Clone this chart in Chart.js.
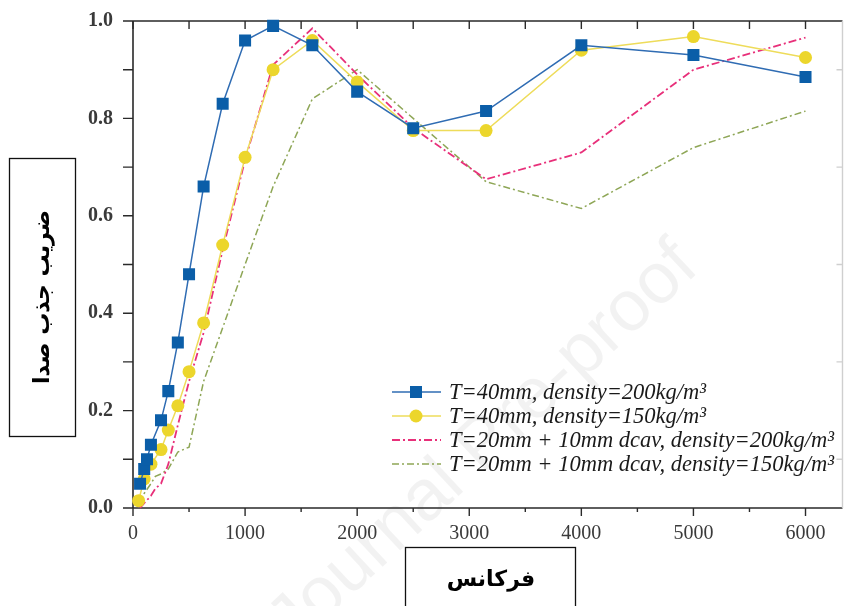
<!DOCTYPE html>
<html>
<head>
<meta charset="utf-8">
<script src="https://cdn.jsdelivr.net/npm/chart.js@4.4.0/dist/chart.umd.min.js"></script>
<style>
  body { margin: 0; background: #fff; }
  #wrap { width: 851px; height: 606px; position: relative; }
</style>
</head>
<body>
<div id="wrap"><canvas id="absorption-chart"></canvas></div>
<script>
// data
const freqBlue = [63, 100, 125, 160, 250, 315, 400, 500, 630, 800, 1000, 1250, 1600, 2000, 2500, 3150, 4000, 5000, 6000];
const alphaBlue = [0.05, 0.08, 0.10, 0.13, 0.18, 0.24, 0.34, 0.48, 0.66, 0.83, 0.96, 0.99, 0.95, 0.855, 0.78, 0.815, 0.95, 0.93, 0.885];

const freqYellow = [50, 100, 160, 250, 315, 400, 500, 630, 800, 1000, 1250, 1600, 2000, 2500, 3150, 4000, 5000, 6000];
const alphaYellow = [0.015, 0.06, 0.09, 0.12, 0.16, 0.21, 0.28, 0.38, 0.54, 0.72, 0.90, 0.96, 0.875, 0.775, 0.775, 0.94, 0.968, 0.925];

const freqPink = [63, 100, 160, 200, 250, 315, 400, 500, 630, 800, 1000, 1250, 1600, 2000, 2500, 3150, 4000, 5000, 6000];
const alphaPink = [0.0, 0.01, 0.025, 0.04, 0.05, 0.09, 0.17, 0.26, 0.36, 0.53, 0.715, 0.91, 0.985, 0.89, 0.78, 0.675, 0.73, 0.90, 0.966];

const freqGreen = [63, 100, 160, 200, 250, 315, 400, 500, 630, 800, 1000, 1250, 1600, 2000, 2500, 3150, 4000, 5000, 6000];
const alphaGreen = [0.01, 0.03, 0.05, 0.065, 0.07, 0.08, 0.115, 0.125, 0.26, 0.37, 0.50, 0.66, 0.84, 0.90, 0.80, 0.67, 0.615, 0.74, 0.815];

const xTickValues = [0, 1000, 2000, 3000, 4000, 5000, 6000];
const yTickValues = [0, 0.2, 0.4, 0.6, 0.8, 1.0];

const seriesLabels = [
  'T=40mm, density=200kg/m³',
  'T=40mm, density=150kg/m³',
  'T=20mm + 10mm dcav, density=200kg/m³',
  'T=20mm + 10mm dcav, density=150kg/m³'
];

const yTitle = 'ضریب جذب صدا';
const xTitle = 'فرکانس';

function pts(xs, ys) {
  return xs.map((x, i) => ({ x: x, y: ys[i] }));
}

const data = {
  datasets: [
    {
      label: seriesLabels[0],
      data: pts(freqBlue, alphaBlue),
      borderColor: '#2f6cb3',
      backgroundColor: '#0b5ea8',
      borderWidth: 1.5,
      pointStyle: 'rect',
      pointRadius: 8.5,
      pointBorderColor: '#0b5ea8',
      pointBorderWidth: 0,
    },
    {
      label: seriesLabels[1],
      data: pts(freqYellow, alphaYellow),
      borderColor: '#eedc5a',
      backgroundColor: '#ecd62c',
      borderWidth: 1.5,
      pointStyle: 'circle',
      pointRadius: 6.5,
      pointBorderColor: '#ecd62c',
      pointBorderWidth: 0,
    },
    {
      label: seriesLabels[2],
      data: pts(freqPink, alphaPink),
      borderColor: '#e8307a',
      backgroundColor: '#e8307a',
      borderWidth: 1.8,
      borderDash: [8, 3, 2, 3],
      pointRadius: 0,
    },
    {
      label: seriesLabels[3],
      data: pts(freqGreen, alphaGreen),
      borderColor: '#8ea656',
      backgroundColor: '#8ea656',
      borderWidth: 1.5,
      borderDash: [7, 3, 2, 3],
      pointRadius: 0,
    },
  ]
};

// frame, ticks on all four sides, watermark, titles and legend
const framePlugin = {
  id: 'frame',
  beforeDatasetsDraw(chart) {
    const ctx = chart.ctx;
    const a = chart.chartArea;
    const xs = chart.scales.x;
    const ys = chart.scales.y;

    // faint watermark
    ctx.save();
    ctx.translate(712, 282);
    ctx.rotate(-0.75);
    ctx.font = '72px "Liberation Sans"';
    ctx.fillStyle = 'rgba(0,0,0,0.05)';
    ctx.textAlign = 'right';
    ctx.textBaseline = 'bottom';
    ctx.fillText('Journal Pre-proof', 0, 0);
    ctx.restore();

    ctx.save();
    ctx.strokeStyle = '#2a2a2a';
    ctx.lineWidth = 1.6;
    ctx.beginPath();
    ctx.moveTo(a.left, a.bottom);
    ctx.lineTo(a.right, a.bottom);
    ctx.moveTo(a.left, a.top);
    ctx.lineTo(a.right, a.top);
    ctx.moveTo(a.left, a.top);
    ctx.lineTo(a.left, a.bottom);
    ctx.stroke();

    ctx.lineWidth = 1.4;
    ctx.beginPath();
    for (let v = 0; v <= xs.max; v += 500) {
      const px = xs.getPixelForValue(v);
      const major = v % 1000 === 0;
      ctx.moveTo(px, a.bottom);
      ctx.lineTo(px, a.bottom + (major ? 8 : 4));
      ctx.moveTo(px, a.top);
      ctx.lineTo(px, a.top + 8);
    }
    for (let i = 0; i <= 10; i++) {
      const py = ys.getPixelForValue(i / 10);
      ctx.moveTo(a.left, py);
      ctx.lineTo(a.left - 10, py);
    }
    ctx.stroke();

    // right side, barely visible in the reference
    ctx.strokeStyle = '#cfcfcf';
    ctx.beginPath();
    ctx.moveTo(a.right, a.top);
    ctx.lineTo(a.right, a.bottom);
    for (let i = 1; i < 10; i += 2) {
      const py = ys.getPixelForValue(i / 10);
      ctx.moveTo(a.right, py);
      ctx.lineTo(a.right - 6, py);
    }
    ctx.stroke();
    ctx.restore();
  },
  afterDraw(chart) {
    const ctx = chart.ctx;
    ctx.save();

    // axis title boxes
    ctx.strokeStyle = '#111';
    ctx.lineWidth = 1.3;
    ctx.strokeRect(9.5, 158.5, 66, 278);
    ctx.strokeRect(405.5, 547.5, 170, 70);

    ctx.fillStyle = '#000';
    ctx.font = 'bold 22px "DejaVu Sans"';
    ctx.textAlign = 'center';
    ctx.textBaseline = 'middle';
    ctx.fillText(xTitle, 491, 580);

    ctx.translate(43, 297);
    ctx.rotate(-Math.PI / 2);
    ctx.fillText(yTitle, 0, 0);
    ctx.restore();

    // legend
    const rows = [392, 416, 440, 464];
    ctx.save();
    chart.data.datasets.forEach((ds, i) => {
      const y = rows[i];
      ctx.strokeStyle = ds.borderColor;
      ctx.lineWidth = ds.borderWidth;
      ctx.setLineDash(ds.borderDash || []);
      ctx.beginPath();
      ctx.moveTo(392, y);
      ctx.lineTo(441, y);
      ctx.stroke();
      ctx.setLineDash([]);
      if (ds.pointRadius > 0) {
        ctx.fillStyle = ds.backgroundColor;
        ctx.strokeStyle = ds.pointBorderColor;
        Chart.helpers.drawPoint(ctx, {
          pointStyle: ds.pointStyle,
          radius: ds.pointRadius,
          rotation: 0,
          borderWidth: 0
        }, 416, y);
      }
      ctx.fillStyle = '#1a1a1a';
      ctx.font = 'italic 22.5px "Liberation Serif"';
      ctx.textAlign = 'left';
      ctx.textBaseline = 'middle';
      ctx.fillText(ds.label, 449, y + 1);
    });
    ctx.restore();
  }
};

const options = {
  responsive: true,
  maintainAspectRatio: false,
  animation: false,
  layout: { padding: { top: 21, right: 2, left: 0, bottom: 0 } },
  datasets: { line: { clip: 12 } },
  scales: {
    x: {
      type: 'linear',
      min: 0,
      max: 6330,
      grid: { display: false },
      border: { display: false },
      afterBuildTicks: (scale) => {
        scale.ticks = xTickValues.map((v) => ({ value: v }));
      },
      afterFit: (scale) => {
        scale.height = 98;
        scale.paddingLeft = 0;
        scale.paddingRight = 0;
      },
      ticks: {
        autoSkip: false,
        maxRotation: 0,
        padding: 6,
        color: '#3a3a3a',
        font: { family: 'Liberation Serif', size: 20 },
        callback: (v) => String(v),
      },
    },
    y: {
      min: 0,
      max: 1,
      grid: { display: false },
      border: { display: false },
      afterBuildTicks: (scale) => {
        scale.ticks = yTickValues.map((v) => ({ value: v }));
      },
      afterFit: (scale) => {
        scale.width = 133;
        scale.paddingTop = 0;
        scale.paddingBottom = 0;
      },
      ticks: {
        padding: 12,
        color: '#3a3a3a',
        font: { family: 'Liberation Serif', size: 20, weight: 'bold' },
        callback: (v) => v.toFixed(1),
      },
    },
  },
  plugins: {
    legend: { display: false },
    tooltip: { enabled: false },
  },
};

const chart = new Chart(document.getElementById('absorption-chart'), {
  type: 'line',
  data: data,
  options: options,
  plugins: [framePlugin]
});
</script>
</body>
</html>
